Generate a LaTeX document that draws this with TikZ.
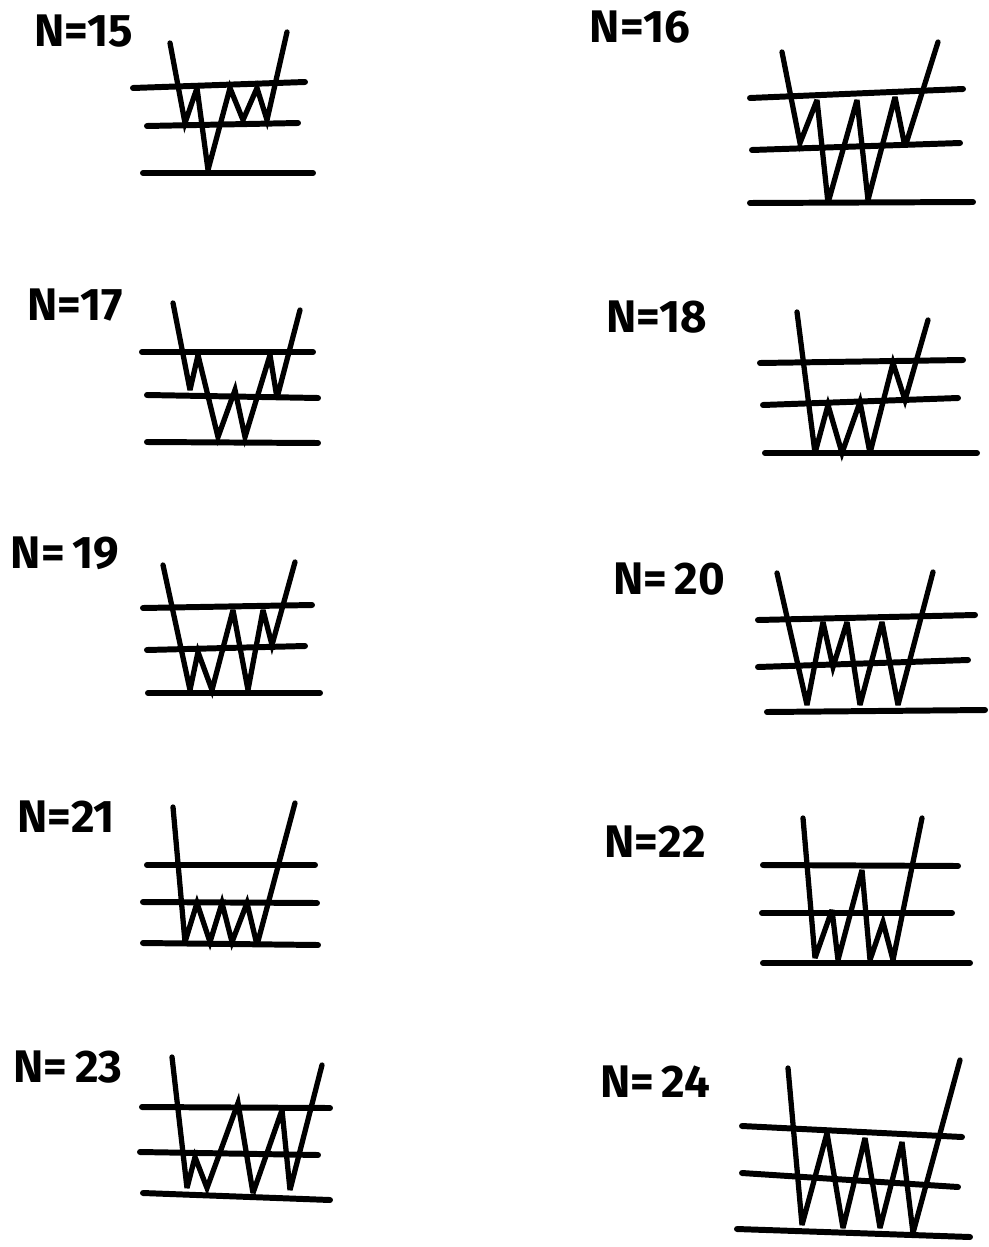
\documentclass[tikz,border=0pt]{standalone}
\usepackage{fontspec}
\setmainfont{Fira Sans}
\usepackage{tikz}
\usetikzlibrary{arrows.meta}

\tikzset{
  level/.style={line width=3.4pt, line cap=round},
  wave/.style={line width=3.0pt, line cap=round, line join=miter, miter limit=4},
  lab/.style={font=\fontsize{26}{28}\selectfont\bfseries, inner sep=0pt}
}

\begin{document}
\begin{tikzpicture}[x=0.02cm, y=-0.02cm]
  \useasboundingbox (0,0) rectangle (988,1247);
  % N=15
  \node[lab] (n15) at (84,31) {N=15};
  \draw[level] (133,88)--(305,82);
  \draw[level] (147,126)--(298,123);
  \draw[level] (143,173)--(313,173);
  \draw[wave] (170,43)--(185,123)--(197,88)--(208,170)--(230,88)--(243,120)
        --(257,88)--(267,120)--(287,32);
  % N=16
  \node[lab] (n16) at (640,27) {N=16};
  \draw[level] (750,98)--(963,89);
  \draw[level] (752,150)--(960,143);
  \draw[level] (750,203)--(973,202);
  \draw[wave] (782,52)--(800,143)--(817,100)--(828,203)--(857,100)--(868,200)
        --(895,97)--(905,147)--(938,42);
  % N=17
  \node[lab] (n17) at (75,305) {N=17};
  \draw[level] (142,352)--(313,352);
  \draw[level] (147,395)--(318,398);
  \draw[level] (147,442)--(318,443);
  \draw[wave] (173,303)--(190,390)--(198,355)--(218,437)--(235,390)--(245,437)
        --(270,355)--(277,398)--(300,310);
  % N=18
  \node[lab] (n18) at (657,317) {N=18};
  \draw[level] (760,363)--(963,360);
  \draw[level] (763,405)--(958,398);
  \draw[level] (765,453)--(977,453);
  \draw[wave] (797,312)--(815,453)--(828,405)--(842,453)--(860,402)--(870,453)
        --(893,363)--(905,400)--(928,320);
  % N=19
  \node[lab] (n19) at (65,553) {N=\,19};
  \draw[level] (143,608)--(312,605);
  \draw[level] (147,650)--(305,646);
  \draw[level] (148,693)--(320,693);
  \draw[wave] (163,565)--(190,690)--(198,652)--(212,690)--(233,610)--(248,690)
        --(263,610)--(272,645)--(295,562);
  % N=20
  \node[lab] (n20) at (669,579) {N=\,20};
  \draw[level] (758,620)--(975,615);
  \draw[level] (758,667)--(968,660);
  \draw[level] (767,712)--(985,710);
  \draw[wave] (777,573)--(807,705)--(823,622)--(833,667)--(847,622)--(860,705)
        --(882,622)--(898,705)--(933,572);
  % N=21
  \node[lab] (n21) at (66,817) {N=21};
  \draw[level] (147,865)--(315,865);
  \draw[level] (143,902)--(317,903);
  \draw[level] (143,943)--(318,945);
  \draw[wave] (173,807)--(185,942)--(197,903)--(210,942)--(222,903)--(232,942)
        --(247,903)--(257,945)--(295,803);
  % N=22
  \node[lab] (n22) at (655,842) {N=22};
  \draw[level] (763,865)--(958,866);
  \draw[level] (762,913)--(952,913);
  \draw[level] (763,963)--(970,963);
  \draw[wave] (803,818)--(815,958)--(832,910)--(838,960)--(862,870)--(870,960)
        --(883,922)--(893,960)--(922,818);
  % N=23
  \node[lab] (n23) at (68,1067) {N=\,23};
  \draw[level] (142,1107)--(330,1108);
  \draw[level] (140,1152)--(318,1155);
  \draw[level] (143,1193)--(330,1200);
  \draw[wave] (172,1057)--(187,1188)--(195,1157)--(207,1188)--(238,1103)--(253,1193)
        --(282,1110)--(290,1190)--(322,1065);
  % N=24
  \node[lab] (n24) at (655,1082) {N=\,24};
  \draw[level] (742,1126)--(962,1137);
  \draw[level] (742,1173)--(958,1187);
  \draw[level] (737,1229)--(970,1237);
  \draw[wave] (788,1068)--(802,1225)--(827,1133)--(843,1228)--(865,1138)--(880,1228)
        --(902,1142)--(913,1233)--(960,1060);
\end{tikzpicture}
\end{document}
